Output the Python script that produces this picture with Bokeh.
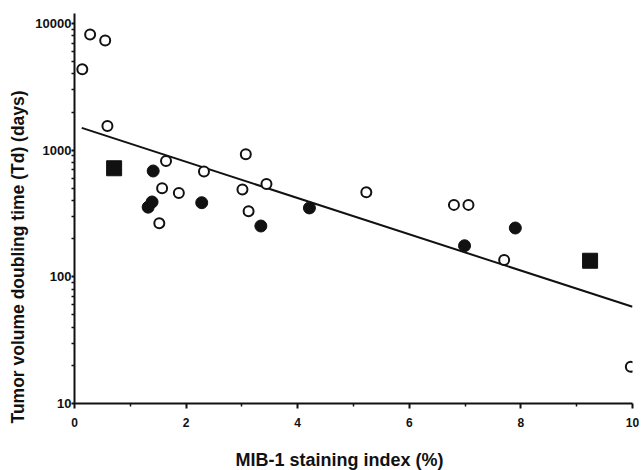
from bokeh.plotting import figure
from bokeh.models import FixedTicker, Range1d, PrintfTickFormatter, Title
from bokeh.embed import file_html
from bokeh.resources import INLINE

# ---- data ----
open_x = [0.14, 0.28, 0.55, 0.59, 1.64, 2.32, 1.57, 1.87, 1.52, 3.07, 3.01, 3.44,
          3.12, 5.23, 6.80, 7.06, 7.70, 9.97]
open_y = [4350, 8200, 7350, 1550, 820, 680, 500, 460, 265, 930, 490, 540,
          330, 465, 370, 370, 136, 19.5]
filled_x = [1.41, 1.32, 1.39, 2.28, 3.34, 4.21, 6.99, 7.90]
filled_y = [685, 355, 390, 385, 252, 350, 176, 243]
square_x = [0.71, 9.24]
square_y = [720, 134]
fit_x = [0.13, 10.0]
fit_y = [1500, 58]
x_ticks = [0, 2, 4, 6, 8, 10]
x_minor = [1, 3, 5, 7, 9]
y_ticks = [10, 100, 1000, 10000]
y_minor = [m * d for d in (10, 100, 1000) for m in range(2, 10)]
x_title = "MIB-1 staining index (%)"
y_title = "Tumor volume doubling time (Td) (days)"

FONT = "Liberation Sans"
INK = "#111111"

p = figure(width=644, height=470, x_range=Range1d(0, 10), y_range=Range1d(10, 12000),
           y_axis_type="log", output_backend="svg", toolbar_location=None,
           min_border_left=71, min_border_right=12, min_border_top=13, min_border_bottom=66)
p.outline_line_color = None
p.grid.visible = False
p.background_fill_color = "white"
p.border_fill_color = "white"

# axes
p.xaxis.ticker = FixedTicker(ticks=x_ticks, minor_ticks=x_minor)
p.yaxis.ticker = FixedTicker(ticks=y_ticks, minor_ticks=y_minor)
p.yaxis.formatter = PrintfTickFormatter(format="%d")
for ax in (p.xaxis, p.yaxis):
    ax.axis_line_color = INK
    ax.axis_line_width = 2
    ax.major_tick_line_color = INK
    ax.major_tick_line_width = 2
    ax.minor_tick_line_color = INK
    ax.minor_tick_line_width = 1.5
    ax.major_tick_in = 0
    ax.minor_tick_in = 0
    ax.major_label_text_font = FONT
    ax.major_label_text_font_style = "bold"
    ax.major_label_text_color = INK
p.xaxis.major_label_text_font_size = "12px"
p.yaxis.major_label_text_font_size = "13px"
p.xaxis.major_tick_out = 5
p.xaxis.minor_tick_out = 3
p.xaxis.major_label_standoff = 9
p.yaxis.major_tick_out = 3
p.yaxis.minor_tick_out = 3
p.yaxis.major_label_standoff = 0

# regression line
p.line(fit_x, fit_y, line_color=INK, line_width=2)

# markers
p.scatter(open_x, open_y, marker="circle", size=10, fill_color="white",
          line_color=INK, line_width=2)
p.scatter(filled_x, filled_y, marker="circle", size=12, fill_color=INK,
          line_color=INK, line_width=1)
p.scatter(square_x, square_y, marker="square", size=15, fill_color=INK,
          line_color=INK, line_width=1)

# axis titles (spacer keeps the x title low, near the bottom edge)
p.add_layout(Title(text=" ", text_font_size="2px", standoff=13), "below")
p.add_layout(Title(text=x_title, align="left", offset=161, text_font=FONT,
                   text_font_style="bold", text_font_size="18px", text_color=INK,
                   standoff=2), "below")
p.add_layout(Title(text=y_title, align="left", offset=-20, text_font=FONT,
                   text_font_style="bold", text_font_size="17.5px", text_color=INK,
                   standoff=10), "left")

open("out.html", "w").write(file_html(p, INLINE))
